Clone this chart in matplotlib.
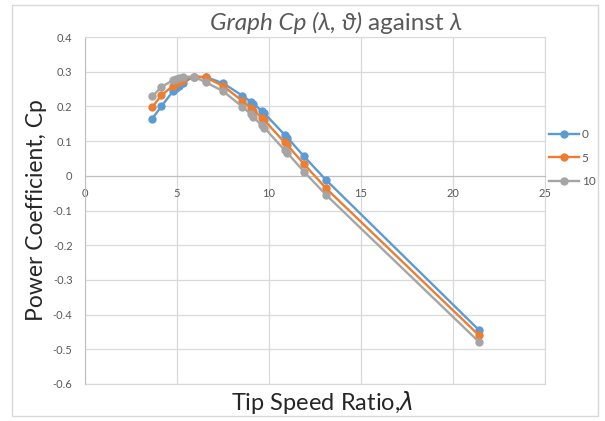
import matplotlib
matplotlib.use("Agg")
import matplotlib.pyplot as plt
from matplotlib.patches import Rectangle

plt.rcParams['font.family'] = ['Lato', 'DejaVu Sans']

# tip speed ratio values
tsr = [3.66, 4.15, 4.8, 4.95, 5.1, 5.3, 5.9, 6.55, 7.5, 8.55, 9.0, 9.15,
       9.6, 9.75, 10.85, 11.0, 11.9, 13.1, 21.4]
# power coefficient for pitch angles 0, 5, 10
cp_0 = [0.165, 0.200, 0.245, 0.252, 0.258, 0.268, 0.285, 0.285, 0.267, 0.231,
        0.214, 0.208, 0.187, 0.180, 0.118, 0.110, 0.056, -0.012, -0.444]
cp_5 = [0.198, 0.232, 0.260, 0.266, 0.271, 0.277, 0.286, 0.284, 0.259, 0.216,
        0.196, 0.188, 0.168, 0.160, 0.096, 0.088, 0.034, -0.036, -0.459]
cp_10 = [0.229, 0.256, 0.276, 0.280, 0.283, 0.285, 0.286, 0.270, 0.244, 0.199,
         0.178, 0.170, 0.145, 0.138, 0.074, 0.066, 0.012, -0.055, -0.478]
series = [("0", cp_0, "#5B9BD5"), ("5", cp_5, "#ED7D31"), ("10", cp_10, "#A5A5A5")]

xticks = [0, 5, 10, 15, 20, 25]
yticks = [0.4, 0.3, 0.2, 0.1, 0, -0.1, -0.2, -0.3, -0.4, -0.5, -0.6]

fig = plt.figure(figsize=(6.05, 4.21), dpi=100)
fig.patches.append(Rectangle((12 / 605, 5 / 421), 586 / 605, 411 / 421,
                             transform=fig.transFigure, fill=False,
                             edgecolor="#D9D9D9", linewidth=1))
ax = fig.add_axes([85 / 605, 1 - 384 / 421, 460 / 605, 347 / 421])

for name, cp, col in series:
    ax.plot(tsr, cp, color=col, lw=1.7, marker="o", ms=5, label=name, zorder=3)

ax.set_xlim(0, 25)
ax.set_ylim(-0.6, 0.4)
ax.set_xticks(xticks)
ax.set_yticks(yticks)
ax.set_yticklabels([f"{v:g}" for v in yticks])
ax.grid(True, color="#D9D9D9", lw=0.9)
ax.set_axisbelow(True)
for s in ["top", "right"]:
    ax.spines[s].set_color("#D9D9D9")
ax.spines["left"].set_color("#BFBFBF")
ax.spines["bottom"].set_position(("data", 0))
ax.spines["bottom"].set_color("#BFBFBF")
ax.axhline(-0.6, color="#D9D9D9", lw=0.9, clip_on=False)
ax.tick_params(length=0, labelsize=8, labelcolor="#595959")
ax.tick_params(axis="x", pad=9)
ax.tick_params(axis="y", pad=9)

ax.set_ylabel("Power Coefficient, Cp", fontsize=16.5, color="#262626", labelpad=4)
fig.text(322 / 605, 1 - 403 / 421, "Tip Speed Ratio,$\\lambda$", fontsize=17,
         color="#262626", va="center", ha="center")

t1 = fig.text(210 / 605, 1 - 23 / 421, "Graph Cp (λ, ϑ) ", fontsize=17.5,
              style="italic", color="#595959", va="center", ha="left")
fig.canvas.draw()
bb = t1.get_window_extent()
t2 = fig.text(bb.x1 / 605, 1 - 23 / 421, "against ", fontsize=17.5,
              color="#595959", va="center", ha="left")
bb2 = t2.get_window_extent(renderer=fig.canvas.get_renderer())
fig.text(bb2.x1 / 605, 1 - 23 / 421, "λ", fontsize=17.5, style="italic",
         color="#595959", va="center", ha="left")

ax.legend(loc="upper left", bbox_to_anchor=(0.985, 0.765), frameon=False,
          fontsize=8.5, labelcolor="#595959", handlelength=2.6, handletextpad=0.2,
          labelspacing=1.05)

fig.savefig("out.png", dpi=100)
